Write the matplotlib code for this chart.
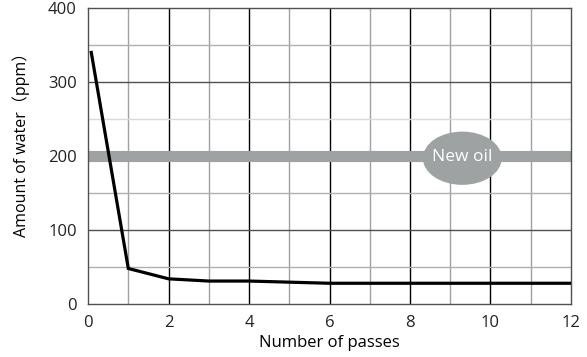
import matplotlib.pyplot as plt
from matplotlib.patches import Ellipse

passes = [0.08, 1, 2, 3, 4, 6, 8, 10, 12]
water_ppm = [340, 48, 34, 31, 31, 28, 28, 28, 28]
new_oil_ppm = 200
x_ticks = [0, 2, 4, 6, 8, 10, 12]
y_ticks = [0, 100, 200, 300, 400]

plt.rcParams['font.family'] = ['Open Sans', 'Noto Sans CJK JP', 'DejaVu Sans']

fig = plt.figure(figsize=(5.87, 3.57), dpi=100)
ax = fig.add_axes([0.15, 0.1485, 0.8227, 0.829])
ax.set_xlim(0, 12)
ax.set_ylim(0, 400)

# grid: odd passes grey, even passes black
for x in range(1, 12):
    ax.axvline(x, color='black' if x % 2 == 0 else '#a0a0a0', lw=1.0, zorder=1)
for y in [50, 150, 350]:
    ax.axhline(y, color='#b0b0b0', lw=1.0, zorder=1)
ax.axhline(250, color='#dadada', lw=1.0, zorder=1)
for y in [100, 300]:
    ax.axhline(y, color='#505050', lw=1.0, zorder=1)

for side in ['left', 'bottom', 'top', 'right']:
    ax.spines[side].set_color('#505050')
    ax.spines[side].set_linewidth(1.0)

# new oil band
ax.axhline(new_oil_ppm, color='#9fa2a2', lw=8, zorder=2)
ax.add_patch(Ellipse((9.3, 197), 1.96, 72, color='#9fa2a2', zorder=3, lw=0))
ax.text(9.3, 199, 'New oil', color='white', fontsize=12.5, ha='center', va='center', zorder=4)

ax.plot(passes, water_ppm, color='black', lw=2.3, zorder=5, solid_joinstyle='miter')

ax.set_xticks(x_ticks)
ax.set_yticks(y_ticks)
ax.tick_params(length=0, labelsize=12, colors='#222222', pad=8)
ax.set_xlabel('Number of passes', fontsize=12, labelpad=3)
ax.set_ylabel('Amount of water（ppm）', fontsize=11.5)
ax.yaxis.set_label_coords(-0.12, 0.55)

fig.savefig('out.png', dpi=100)
